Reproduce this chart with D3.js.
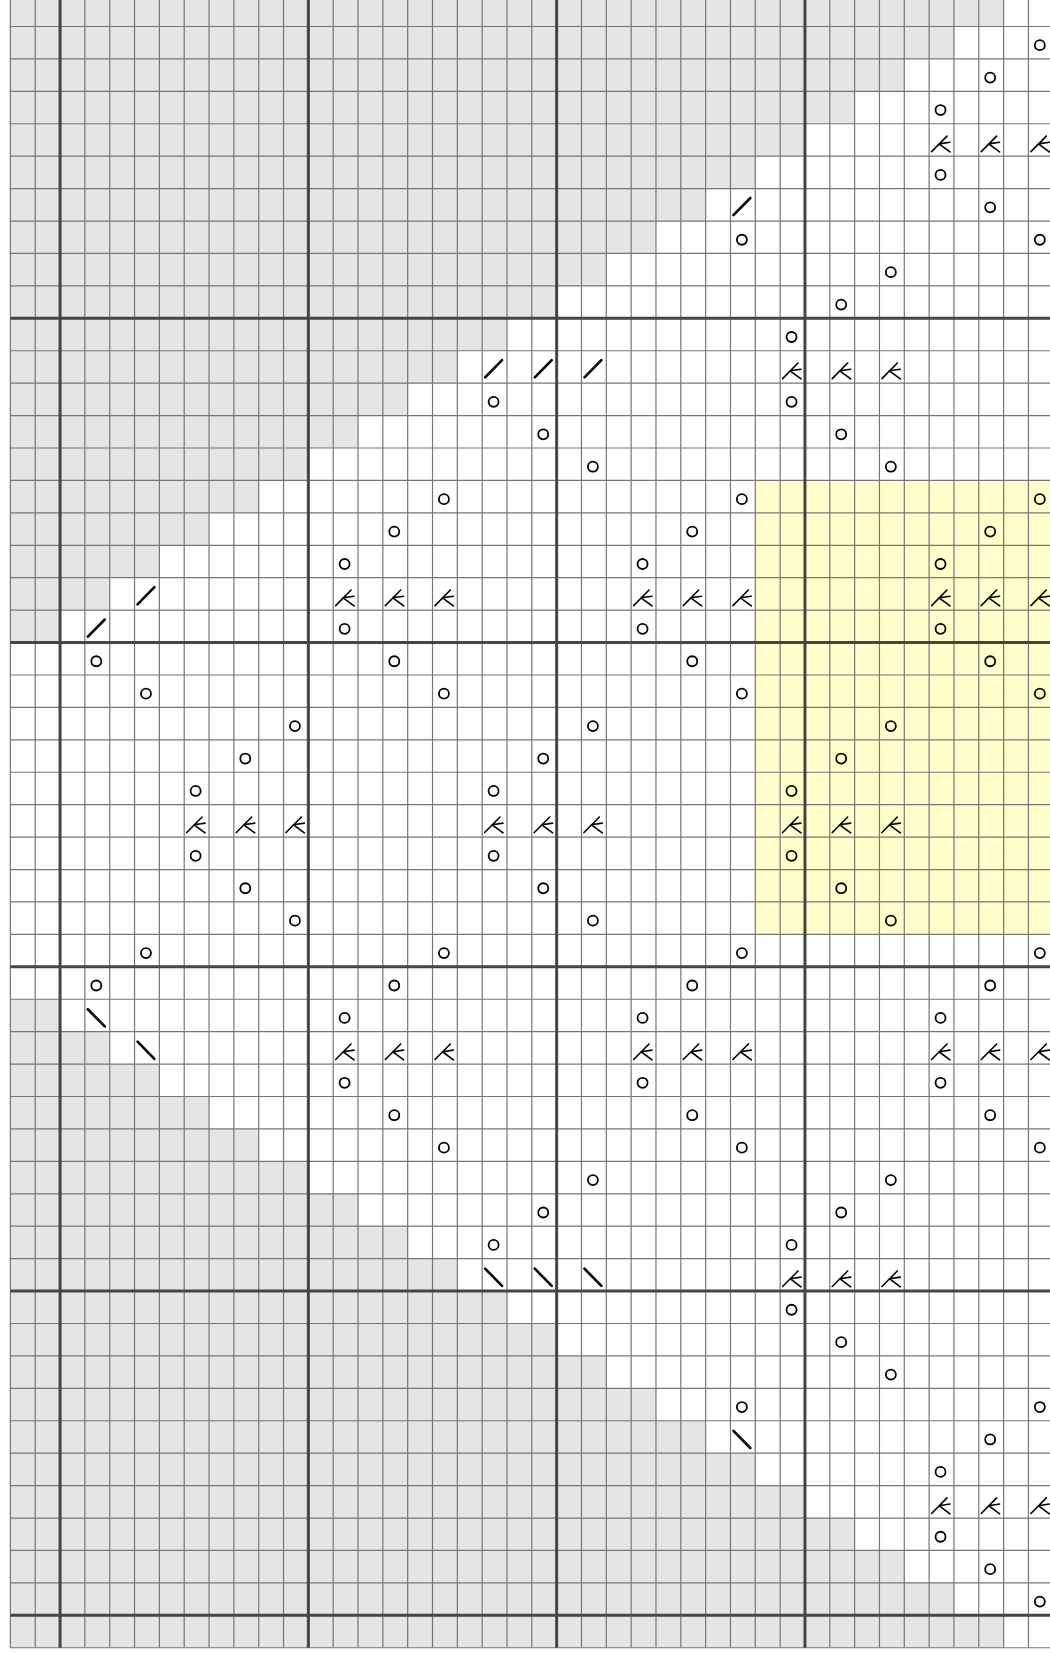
<!DOCTYPE html>
<html lang="en">
<head>
<meta charset="utf-8">
<title>Lace chart</title>
<script src="https://d3js.org/d3.v7.min.js"></script>
<style>
body { margin: 0; background: #fff; }
svg { display: block; }
</style>
</head>
<body>
<script>
// x = no stitch, . = knit, o = yarn over, / = k2tog, s = ssk, A = double decrease
// "|" only marks the heavy 10-stitch lines, it is stripped before drawing
var chartRows = [
    "xx|xxxxxxxxxx|xxxxxxxxxx|xxxxxxxxxx|xxxxxxxx..",
    "xx|xxxxxxxxxx|xxxxxxxxxx|xxxxxxxxxx|xxxxxx...o",
    "xx|xxxxxxxxxx|xxxxxxxxxx|xxxxxxxxxx|xxxx...o..",
    "xx|xxxxxxxxxx|xxxxxxxxxx|xxxxxxxxxx|xx...o....",
    "xx|xxxxxxxxxx|xxxxxxxxxx|xxxxxxxxxx|.....A.A.A",
    "xx|xxxxxxxxxx|xxxxxxxxxx|xxxxxxxx..|.....o....",
    "xx|xxxxxxxxxx|xxxxxxxxxx|xxxxxx./..|.......o..",
    "xx|xxxxxxxxxx|xxxxxxxxxx|xxxx...o..|.........o",
    "xx|xxxxxxxxxx|xxxxxxxxxx|xx........|...o......",
    "xx|xxxxxxxxxx|xxxxxxxxxx|..........|.o........",
    "xx|xxxxxxxxxx|xxxxxxxx..|.........o|..........",
    "xx|xxxxxxxxxx|xxxxxx././|./.......A|.A.A......",
    "xx|xxxxxxxxxx|xxxx...o..|.........o|..........",
    "xx|xxxxxxxxxx|xx.......o|..........|.o........",
    "xx|xxxxxxxxxx|..........|.o........|...o......",
    "xx|xxxxxxxx..|.....o....|.......o..|.........o",
    "xx|xxxxxx....|...o......|.....o....|.......o..",
    "xx|xxxx......|.o........|...o......|.....o....",
    "xx|xx./......|.A.A.A....|...A.A.A..|.....A.A.A",
    "xx|./........|.o........|...o......|.....o....",
    "..|.o........|...o......|.....o....|.......o..",
    "..|...o......|.....o....|.......o..|.........o",
    "..|.........o|..........|.o........|...o......",
    "..|.......o..|.........o|..........|.o........",
    "..|.....o....|.......o..|.........o|..........",
    "..|.....A.A.A|.......A.A|.A.......A|.A.A......",
    "..|.....o....|.......o..|.........o|..........",
    "..|.......o..|.........o|..........|.o........",
    "..|.........o|..........|.o........|...o......",
    "..|...o......|.....o....|.......o..|.........o",
    "..|.o........|...o......|.....o....|.......o..",
    "xx|.s........|.o........|...o......|.....o....",
    "xx|xx.s......|.A.A.A....|...A.A.A..|.....A.A.A",
    "xx|xxxx......|.o........|...o......|.....o....",
    "xx|xxxxxx....|...o......|.....o....|.......o..",
    "xx|xxxxxxxx..|.....o....|.......o..|.........o",
    "xx|xxxxxxxxxx|..........|.o........|...o......",
    "xx|xxxxxxxxxx|xx.......o|..........|.o........",
    "xx|xxxxxxxxxx|xxxx...o..|.........o|..........",
    "xx|xxxxxxxxxx|xxxxxx.s.s|.s.......A|.A.A......",
    "xx|xxxxxxxxxx|xxxxxxxx..|.........o|..........",
    "xx|xxxxxxxxxx|xxxxxxxxxx|..........|.o........",
    "xx|xxxxxxxxxx|xxxxxxxxxx|xx........|...o......",
    "xx|xxxxxxxxxx|xxxxxxxxxx|xxxx...o..|.........o",
    "xx|xxxxxxxxxx|xxxxxxxxxx|xxxxxx.s..|.......o..",
    "xx|xxxxxxxxxx|xxxxxxxxxx|xxxxxxxx..|.....o....",
    "xx|xxxxxxxxxx|xxxxxxxxxx|xxxxxxxxxx|.....A.A.A",
    "xx|xxxxxxxxxx|xxxxxxxxxx|xxxxxxxxxx|xx...o....",
    "xx|xxxxxxxxxx|xxxxxxxxxx|xxxxxxxxxx|xxxx...o..",
    "xx|xxxxxxxxxx|xxxxxxxxxx|xxxxxxxxxx|xxxxxx...o",
    "xx|xxxxxxxxxx|xxxxxxxxxx|xxxxxxxxxx|xxxxxxxx.."
];
var highlightRows = [15, 28];   // first and last row of the yellow block
var highlightCols = [30, 41];
var majorCols = [2, 12, 22, 32, 42];
var majorRows = [10, 20, 30, 40, 50];

var w = 1050;
var h = 1654;
var cellW = 24.83;
var cellH = 32.425;
var left = 10.4;
var top0 = -5.95;

var grid = chartRows.map(function(s) { return s.replace(/\|/g, "").split(""); });
var nRows = grid.length;
var nCols = grid[0].length;

var x = d3.scaleBand().domain(d3.range(nCols)).range([left, left + nCols * cellW]);
var y = d3.scaleBand().domain(d3.range(nRows)).range([top0, top0 + nRows * cellH]);
var bw = x.bandwidth(), bh = y.bandwidth();

function edgeX(i) { return i < nCols ? x(i) : x(nCols - 1) + bw; }
function edgeY(i) { return i < nRows ? y(i) : y(nRows - 1) + bh; }

var cells = [];
grid.forEach(function(row, r) {
    row.forEach(function(k, c) { cells.push({r: r, c: c, k: k}); });
});

function cellFill(d) {
    if (d.k === "x") return "#e5e5e5";
    if (d.r >= highlightRows[0] && d.r <= highlightRows[1] &&
        d.c >= highlightCols[0] && d.c <= highlightCols[1]) return "#ffffcc";
    return "#ffffff";
}

var svg = d3.select("body")
    .append("svg")
    .attr("width", w)
    .attr("height", h);

svg.append("g")
    .selectAll("rect")
    .data(cells)
    .enter()
    .append("rect")
    .attr("x", function(d) { return x(d.c); })
    .attr("y", function(d) { return y(d.r); })
    .attr("width", bw)
    .attr("height", bh)
    .attr("fill", cellFill);

// thin grid
var thin = svg.append("g").attr("stroke", "#767676").attr("stroke-width", 1.2);
thin.selectAll("line.v")
    .data(d3.range(nCols + 1))
    .enter()
    .append("line")
    .attr("class", "v")
    .attr("x1", edgeX).attr("x2", edgeX)
    .attr("y1", edgeY(0)).attr("y2", edgeY(nRows));
thin.selectAll("line.h")
    .data(d3.range(nRows + 1))
    .enter()
    .append("line")
    .attr("class", "h")
    .attr("y1", edgeY).attr("y2", edgeY)
    .attr("x1", edgeX(0)).attr("x2", edgeX(nCols));

// heavy lines every 10 stitches / rows
var thick = svg.append("g").attr("stroke", "#454545").attr("stroke-width", 3);
thick.selectAll("line.v")
    .data(majorCols)
    .enter()
    .append("line")
    .attr("class", "v")
    .attr("x1", edgeX).attr("x2", edgeX)
    .attr("y1", edgeY(0)).attr("y2", edgeY(nRows));
thick.selectAll("line.h")
    .data(majorRows)
    .enter()
    .append("line")
    .attr("class", "h")
    .attr("y1", edgeY).attr("y2", edgeY)
    .attr("x1", edgeX(0)).attr("x2", edgeX(nCols));

// symbols
var sym = svg.append("g")
    .selectAll("g")
    .data(cells.filter(function(d) { return d.k !== "x" && d.k !== "."; }))
    .enter()
    .append("g")
    .attr("transform", function(d) { return "translate(" + x(d.c) + "," + y(d.r) + ")"; })
    .attr("fill", "none")
    .attr("stroke", "#000")
    .attr("stroke-linecap", "round");

sym.each(function(d) {
    var g = d3.select(this);
    if (d.k === "o") {
        g.append("circle")
            .attr("cx", bw / 2 - 1)
            .attr("cy", bh / 2 + 2.5)
            .attr("r", 5)
            .attr("stroke-width", 1.8);
    } else if (d.k === "/") {
        g.append("line")
            .attr("x1", bw * 0.12).attr("y1", bh * 0.82)
            .attr("x2", bw * 0.8).attr("y2", bh * 0.29)
            .attr("stroke-width", 2.6);
    } else if (d.k === "s") {
        g.append("line")
            .attr("x1", bw * 0.12).attr("y1", bh * 0.31)
            .attr("x2", bw * 0.8).attr("y2", bh * 0.84)
            .attr("stroke-width", 2.6);
    } else if (d.k === "A") {
        var p = d3.path();
        p.moveTo(bw * 0.1, bh * 0.86);
        p.lineTo(bw * 0.72, bh * 0.38);
        p.moveTo(bw * 0.84, bh * 0.57);
        p.lineTo(bw * 0.4, bh * 0.62);
        p.lineTo(bw * 0.84, bh * 0.87);
        g.append("path")
            .attr("d", p.toString())
            .attr("stroke-width", 1.6)
            .attr("stroke-linejoin", "round");
    }
});
</script>
</body>
</html>
